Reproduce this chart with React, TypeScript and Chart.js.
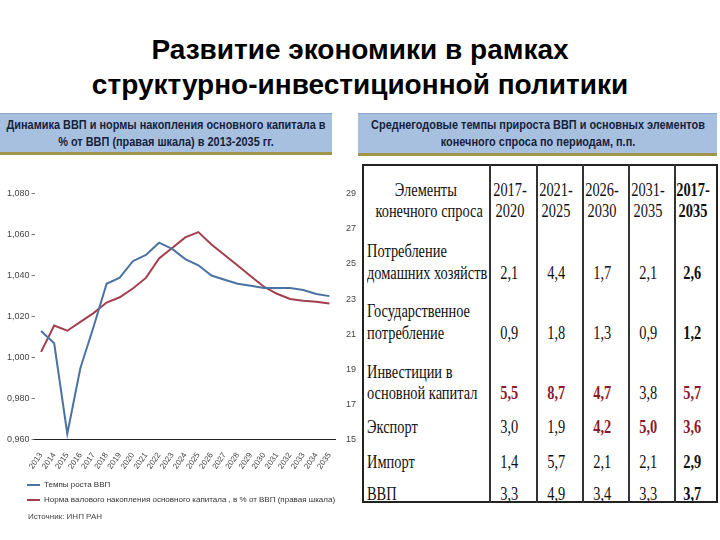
import React, { useEffect, useRef } from "react";
import { Chart, registerables } from "chart.js";
Chart.register(...registerables);

const years = ["2013","2014","2015","2016","2017","2018","2019","2020","2021","2022","2023","2024","2025","2026","2027","2028","2029","2030","2031","2032","2033","2034","2035"];
const gdpGrowth = [1.013, 1.007, 0.963, 0.995, 1.015, 1.036, 1.039, 1.047, 1.050, 1.056, 1.053, 1.048, 1.045, 1.040, 1.038, 1.036, 1.035, 1.034, 1.034, 1.034, 1.033, 1.031, 1.030];
const investmentRate = [20.0, 21.5, 21.2, 21.7, 22.2, 22.8, 23.1, 23.6, 24.2, 25.3, 25.9, 26.5, 26.8, 26.1, 25.5, 24.9, 24.3, 23.7, 23.3, 23.0, 22.9, 22.85, 22.75];
const seriesNames = ["Темпы роста ВВП", "Норма валового накопления основного капитала , в % от ВВП (правая шкала)"];

const tablePeriods = [["2017-", "2020"], ["2021-", "2025"], ["2026-", "2030"], ["2031-", "2035"], ["2017-", "2035"]];
const rowLabels = [["Потребление", "домашних хозяйств"], ["Государственное", "потребление"], ["Инвестиции в", "основной капитал"], ["Экспорт"], ["Импорт"], ["ВВП"]];
const householdRow = ["2,1", "4,4", "1,7", "2,1", "2,6"];
const governmentRow = ["0,9", "1,8", "1,3", "0,9", "1,2"];
const investmentRow = ["5,5", "8,7", "4,7", "3,8", "5,7"];
const exportRow = ["3,0", "1,9", "4,2", "5,0", "3,6"];
const importRow = ["1,4", "5,7", "2,1", "2,1", "2,9"];
const gdpRow = ["3,3", "4,9", "3,4", "3,3", "3,7"];
const highlighted = [
  [false, false, false, false, false],
  [false, false, false, false, false],
  [true, true, true, false, true],
  [false, false, true, true, true],
  [false, false, false, false, false],
  [false, false, false, false, false],
];
const tableValues = [householdRow, governmentRow, investmentRow, exportRow, importRow, gdpRow];

const BLUE = "#4a73a3";
const RED = "#a33f4c";
const DARKRED = "#8c1a2b";
const SANS = '"Liberation Sans", Arial, sans-serif';
const SERIF = '"Liberation Serif", "Times New Roman", serif';

const colX = [362, 490, 537, 583, 629, 675, 718];
const headerY = [190, 211];
const rowY = [[251, 273], [311, 333], [372, 393], [427], [462], [494]];

function Txt(props: { x: number; w: number; y: number; text: string; align: "left" | "center"; bold?: boolean; color?: string }) {
  const { x, w, y, text, align, bold, color } = props;
  return (
    <div style={{ position: "absolute", left: x, top: y - 11, width: w, height: 22, lineHeight: "22px", textAlign: align, whiteSpace: "nowrap", fontFamily: SERIF, fontSize: 18, fontWeight: bold ? 700 : 400, color: color || "#111" }}>
      <span style={{ display: "inline-block", transform: "scaleX(0.8)", transformOrigin: align === "left" ? "left center" : "center center" }}>{text}</span>
    </div>
  );
}

const legendShift = {
  id: "legendShift",
  afterLayout(chart: any) {
    if (chart.legend) {
      chart.legend.left += 15;
      chart.legend.right += 15;
    }
  },
};

export default function App() {
  const ref = useRef<HTMLCanvasElement>(null);
  useEffect(() => {
    const tickFont = { family: SANS, size: 9 };
    const chart = new Chart(ref.current as HTMLCanvasElement, {
      type: "line",
      data: {
        labels: years,
        datasets: [
          { label: seriesNames[0], data: gdpGrowth, borderColor: BLUE, backgroundColor: BLUE, borderWidth: 2, pointRadius: 0, yAxisID: "y", tension: 0 },
          { label: seriesNames[1], data: investmentRate, borderColor: RED, backgroundColor: RED, borderWidth: 2, pointRadius: 0, yAxisID: "y1", tension: 0 },
        ],
      },
      options: {
        animation: false,
        responsive: false,
        layout: { padding: { left: 3, right: 2, top: 0, bottom: 0 } },
        plugins: {
          legend: {
            position: "bottom",
            align: "start",
            labels: { usePointStyle: true, pointStyle: "line", pointStyleWidth: 13, font: { family: SANS, size: 8 }, color: "#333", padding: 7 },
          },
          tooltip: { enabled: false },
        },
        scales: {
          x: {
            offset: true,
            grid: { display: false },
            border: { display: true, color: "#222", width: 1 },
            ticks: { autoSkip: false, minRotation: 55, maxRotation: 55, font: { family: SANS, size: 8 }, color: "#444", padding: 3 },
          },
          y: {
            position: "left",
            min: 0.96,
            max: 1.08,
            ticks: { stepSize: 0.02, callback: (v: any) => Number(v).toFixed(3).replace(".", ","), font: tickFont, color: "#444", padding: 2 },
            grid: { drawOnChartArea: false, tickLength: 3, color: "#777" },
            border: { display: false },
          },
          y1: {
            position: "right",
            min: 15,
            max: 29,
            ticks: { stepSize: 2, font: tickFont, color: "#444", padding: 2 },
            grid: { display: false },
            border: { display: false },
          },
        },
      },
      plugins: [legendShift],
    } as any);
    return () => chart.destroy();
  }, []);

  const headStyle: React.CSSProperties = { position: "absolute", top: 113, background: "#a8c0e0", borderTop: "1px solid #8ea6c9", borderBottom: "3px solid #a0954a", fontSize: 13, lineHeight: "17px", fontWeight: 700, color: "#16223c", overflow: "hidden" };
  const headInner: React.CSSProperties = { position: "absolute", left: "50%", top: 2, transform: "translateX(-50%) scaleX(0.84)", whiteSpace: "nowrap", textAlign: "center" };

  return (
    <div style={{ position: "fixed", left: 0, top: 0, width: 720, height: 540, background: "#fff", overflow: "hidden", fontFamily: SANS }}>
      <div style={{ position: "absolute", left: 0, top: 32, width: 720, textAlign: "center", fontSize: 28, lineHeight: "35px", fontWeight: 700, color: "#000" }}>
        <div>Развитие экономики в рамках</div>
        <div>структурно-инвестиционной политики</div>
      </div>

      <div style={{ ...headStyle, left: 0, width: 332, height: 38 }}>
        <div style={headInner}>
          <div>Динамика ВВП и нормы накопления основного капитала в</div>
          <div>% от ВВП (правая шкала) в 2013-2035 гг.</div>
        </div>
      </div>

      <div style={{ ...headStyle, left: 358, width: 359, height: 39 }}>
        <div style={headInner}>
          <div>Среднегодовые темпы прироста ВВП и основных элементов</div>
          <div>конечного спроса по периодам, п.п.</div>
        </div>
      </div>

      <div style={{ position: "absolute", left: 2, top: 186, width: 358, height: 328 }}>
        <canvas ref={ref} width={358} height={328} style={{ width: 358, height: 328, display: "block" }} />
      </div>

      <div style={{ position: "absolute", left: 28, top: 512, fontSize: 8, color: "#444" }}>Источник: ИНП РАН</div>

      <div style={{ position: "absolute", left: colX[0], top: 164, width: colX[6] - colX[0] - 4, height: 503 - 164 - 4, border: "2px solid #222" }} />
      {colX.slice(1, 6).map((x, i) => (
        <div key={"v" + i} style={{ position: "absolute", left: x - 1, top: 164, width: 2, height: 503 - 164, background: "#333" }} />
      ))}
      <Txt x={colX[0]} w={colX[1] - colX[0]} y={headerY[0]} text="Элементы" align="center" />
      <Txt x={colX[0]} w={colX[1] - colX[0]} y={headerY[1]} text="конечного спроса" align="center" />
      {tablePeriods.map((p, i) =>
        p.map((t, j) => (
          <Txt key={"h" + i + j} x={colX[i + 1] - 4} w={colX[i + 2] - colX[i + 1]} y={headerY[j]} text={t} align="center" bold={i === 4} />
        ))
      )}
      {rowLabels.map((lines, r) =>
        lines.map((t, j) => <Txt key={"l" + r + j} x={367} w={125} y={rowY[r][j]} text={t} align="left" />)
      )}
      {tableValues.map((row, r) =>
        row.map((v, c) => (
          <Txt key={"c" + r + c} x={colX[c + 1] - 4} w={colX[c + 2] - colX[c + 1]} y={rowY[r][rowY[r].length - 1]} text={v} align="center" bold={c === 4 || highlighted[r][c]} color={highlighted[r][c] ? DARKRED : "#111"} />
        ))
      )}
    </div>
  );
}
